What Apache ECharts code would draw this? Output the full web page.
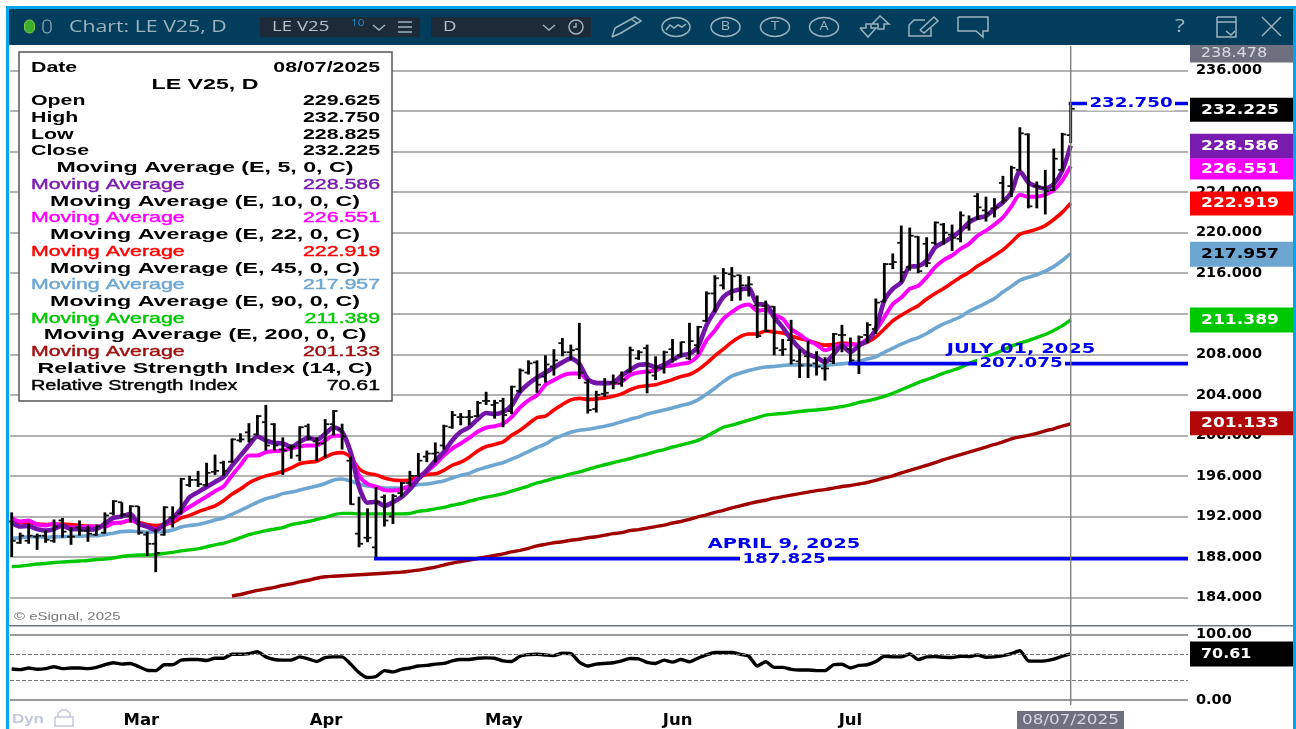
<!DOCTYPE html>
<html>
<head>
<meta charset="utf-8">
<title>LE V25, D</title>
<script src="https://cdn.jsdelivr.net/npm/echarts@6/dist/echarts.min.js"></script>
<style>
html, body { margin: 0; padding: 0; background: #fff; }
#container { width: 1296px; height: 729px; }
</style>
</head>
<body>
<div id="container"></div>
<script>
var lastDate = '08/07/2025';

// open, high, low, close per trading day
var ohlc = [
  [191.5,192.4,188,189.6],[189.4,190.4,189.3,190.1],[189.6,191.3,189.3,190.1],[190,190.3,188.7,190.1],[190.1,190.6,189.4,189.7],
  [189.6,191.7,189.4,191],[191.6,191.85,189.9,190.5],[190,190.9,189.2,190],[190.9,191.6,190.1,190.6],[190.6,191.1,189.5,190.3],
  [190.2,191.2,190.1,191],[190.4,192.4,190.3,192.1],[192.3,193.6,192.1,193.5],[193.4,193.4,191.9,192.2],[192,193.1,191.4,193],
  [193,193,190.2,190.4],[190.2,190.5,188.1,189.3],[189.3,190.75,186.5,188.4],[190.2,193,190.1,192.9],[191.9,193,190.9,192],
  [192.3,195.8,192.2,195.7],[195.1,196,194.9,195.6],[195.6,196.5,194.9,195.2],[195.1,197.3,194.95,196.3],[196.4,198.1,196.1,196.5],
  [197.3,197.5,196,196.5],[197.4,199.7,197.3,199.6],[199.5,200.2,199.3,199.6],[200.3,201.2,199.3,199.6],[200.1,202,200,201.9],
  [201.3,203,198.5,199],[201.1,201.2,198.5,199],[198.6,199.8,196.1,198.5],[198.8,199.1,197.7,198.9],[198,200.9,197.45,200.8],
  [200.9,201.15,199.5,199.7],[199.4,199.8,197.45,199.2],[199.2,201.6,197.8,201.1],[201.1,202.5,200,202.4],[200.6,201.15,198.6,199.9],
  [197.5,197.9,193.15,193.2],[190.3,193.95,188.95,189.3],[189.9,192.8,189.45,189.9],[188.95,194.9,187.825,193.4],[193.9,194.15,191,191.6],
  [192,194.2,191.25,194],[194.3,195.4,193.9,195.3],[195.3,196.5,194.95,196],[196,198.25,195.9,197.5],[197.9,198.5,197.35,198.2],
  [198.2,199.3,197.35,198.3],[199,201.05,198.6,200.9],[200.8,202.4,200.65,202],[201.8,202.2,201,201.8],[201.8,202.5,201,201.8],
  [201.9,203.4,201.8,203.2],[203.4,204.3,203,203.4],[203,203.5,201.65,203.2],[203.4,203.7,200.8,202],[202.4,204.9,202.1,204.8],
  [204.4,206.6,204.2,206.4],[206.2,207.4,206,207.1],[207.2,207.4,204.2,205],[205.8,207.9,205.2,207],[206.8,208.5,205.9,207.4],
  [209.1,209.6,207.8,208.2],[208.2,208.95,207.45,208.4],[208.5,211.1,205.55,206.2],[205.2,205.55,202.15,202.5],[202.6,204.4,202.25,204],
  [204.1,205.65,203.8,204.2],[205.2,206,204.55,205.2],[205.1,206.3,204.8,205.5],[206.3,208.75,206.2,208.4],[207.6,208.4,207.45,208.2],
  [208.6,208.95,204.15,206.2],[205.9,207.8,205.45,206.7],[206.6,208.35,206.1,208.2],[208.5,209.5,207.2,207.5],[207.9,209.25,207.7,209.2],
  [207.6,211.1,207.45,209.3],[208.9,210.8,208,210.7],[211.3,214.2,211.2,214],[214,215.8,212.15,215.5],[214.8,216.5,214.4,216],
  [215.9,216.6,213.25,215.7],[215.8,215.85,213.3,214.8],[214.8,215.7,213.7,214.9],[212.8,213.8,209.6,209.8],[212.8,213.3,210.2,210.3],
  [212.7,212.75,207.9,208.6],[208.4,209.5,207.85,208.5],[209.4,211.4,207,207.4],[207.3,208.5,205.65,206.9],[207.8,209.35,205.65,206.9],
  [207.1,208.3,205.9,206.8],[206.6,207.7,205.4,206.6],[207.3,210.1,207.05,210],[209.9,210.9,208.2,209.9],[208.5,209.65,207,207.4],
  [207,209.85,206.05,209.7],[209.9,211.15,209.1,210.9],[210.5,213.5,210,213.1],[213.2,217,213.1,216.9],[216.9,217.95,216.4,217.1],
  [219,220.7,215.1,216.1],[216.6,220.5,216.25,219.7],[219.6,219.65,216,216.2],[218.9,219.55,216.6,217],[219,221.1,218.8,221],
  [220.8,220.95,218.8,220],[219.8,220.8,218.2,219.5],[219.4,222.1,219.05,221.7],[220.5,221.7,220.2,221.3],[223.6,223.9,221.25,222.5],
  [222.2,223.55,221.1,221.9],[222.4,223.4,221.5,222.5],[224.9,225.6,222.9,223.2],[224.6,226.6,223.5,226.4],[226.2,230.4,226.1,229.8],
  [229.7,229.8,222.4,222.6],[224.6,225.05,222.4,224.5],[224.4,226.2,221.8,224.1],[224.2,228.3,224.1,227.3],[226.2,229.85,226.05,229.7],
  [229.625,232.75,228.825,232.225]
];

var ma5 = [
  191.4,191,191.05,190.75,190.6,190.75,191.1,190.75,190.75,190.7,
  190.75,191.3,191.85,192,192.25,191.25,191,190.65,191.25,191.85,
  192.75,193.9,194.4,194.9,195.4,195.9,197,198,199,199.9,
  199.5,199.25,199.2,198.85,199.35,199.75,199.55,200.15,200.8,200.35,
  198.35,194.9,193.35,193.45,193.05,193.4,193.9,194.7,195.7,196.55,
  197.5,198.35,199.5,200.35,200.8,201.6,202.2,202.1,202.3,202.95,
  204.3,205.1,205.7,206.2,206.7,207.2,207.6,207.05,205.55,205.15,
  205.15,205.2,205.9,206.45,206.95,207,206.7,206.95,207.45,207.9,
  208.05,208.75,210.85,212.3,213.65,214.2,214.4,214.5,212.95,212.9,
  211.65,210.65,209.5,208.6,208,207.7,207.2,208,208.85,208.2,
  208.85,209.35,210.5,213.3,214.45,215.1,216.65,216.7,217.25,218.55,
  219.05,219.55,220.2,221,221.45,221.65,222.35,223,224,226.05,
  224.95,224.55,224.35,224.8,226.1,228.586
];
var ma10 = [
  191.85,191.5,191.6,191.2,191.1,191.3,191,190.9,190.9,191,
  191,191,191.35,191.4,191.65,191.3,191,190.75,191.1,191.65,
  192.4,192.95,193.45,193.95,194.5,194.95,196.05,197.05,198,198,
  198.35,198.45,198.5,198.7,198.9,199,199,199.5,199.95,199.95,
  198.35,196.05,195.2,194.95,194.6,194.55,194.7,195.05,195.9,196.45,
  197.15,198,198.7,199.2,199.75,200.35,200.75,200.9,201.15,201.8,
  202.75,203.45,203.95,205,205.45,205.9,206.1,206.1,205.45,205.2,
  205.15,205.15,205.3,205.95,206.2,206.3,206.4,206.8,206.9,207.05,
  207.2,207.85,209.35,210.35,211.5,212.15,212.7,212.9,212.3,212.4,
  211.9,211.5,210.5,209.95,209.35,208.95,208.4,208.7,208.95,208.95,
  209,209.5,210.35,211.65,212.95,213.6,214.45,214.75,215.6,216.6,
  217.3,217.75,218.4,218.9,219.7,220.2,220.8,221.5,222.6,223.75,
  223.55,223.55,223.75,224.2,225.15,226.551
];
var ma22 = [
  191.75,191.4,191.4,191.25,191.2,191.2,191.25,191.2,191.1,191.05,
  191,191.15,191.35,191.4,191.6,191.4,191.2,191.1,191.2,191.4,
  191.85,192.1,192.45,192.75,193.05,193.55,194.2,194.7,195.3,195.7,
  196,196.2,196.45,196.8,197.2,197.35,197.45,197.85,198.2,198.3,
  197.85,196.7,196.25,196.1,195.8,195.6,195.55,195.6,195.9,196.15,
  196.2,196.55,197.05,197.35,197.85,198.45,198.9,199.1,199.35,200,
  200.5,201.15,201.75,201.9,202.5,203.05,203.5,203.65,203.55,203.6,
  203.7,203.85,204.1,204.5,204.8,204.9,205,205.25,205.5,205.8,
  206,206.45,207.1,207.85,208.5,209.2,209.75,210,210,210.3,
  210.2,210.1,209.8,209.55,209.35,209.1,208.9,208.95,209.1,209.05,
  208.95,209.2,209.7,210.5,211.3,211.85,212.35,212.8,213.45,214,
  214.5,215.05,215.6,216.1,216.7,217.2,217.75,218.3,219.05,219.85,
  220.1,220.35,220.7,221.3,222,222.919
];
var ma45 = [
  189.85,189.9,190,190,189.95,190,190,190.05,190.05,190.1,
  190.1,190.2,190.35,190.5,190.55,190.5,190.45,190.5,190.5,190.65,
  190.95,191.1,191.2,191.4,191.65,191.85,192.2,192.6,193,193.4,
  193.75,193.95,194.25,194.4,194.6,194.8,195,195.25,195.6,195.7,
  195.5,195.2,195,194.9,194.8,194.8,194.8,194.95,195.15,195.2,
  195.35,195.5,195.8,196.05,196.25,196.6,196.85,197.1,197.3,197.65,
  198,198.4,198.8,199.15,199.65,200,200.3,200.5,200.6,200.75,
  200.9,201.1,201.35,201.6,201.8,202.1,202.3,202.5,202.7,202.95,
  203.15,203.5,204.05,204.65,205.3,205.85,206.15,206.4,206.6,206.75,
  206.8,206.9,206.95,206.95,206.95,206.85,206.9,207,207.05,207.15,
  207.3,207.55,207.75,208.2,208.6,209,209.35,209.65,210.05,210.55,
  211,211.35,211.7,212.25,212.65,213.05,213.5,214.15,214.7,215.3,
  215.6,215.85,216.2,216.65,217.25,217.957
];
var ma90 = [
  187.05,187.1,187.2,187.3,187.35,187.45,187.5,187.55,187.6,187.65,
  187.75,187.8,187.9,188.05,188.15,188.2,188.2,188.25,188.35,188.45,
  188.6,188.7,188.8,189,189.2,189.35,189.6,189.9,190.2,190.4,
  190.6,190.75,190.9,191.2,191.35,191.5,191.7,191.9,192.15,192.3,
  192.3,192.25,192.25,192.25,192.25,192.25,192.25,192.3,192.5,192.6,
  192.75,192.9,193.1,193.25,193.5,193.7,193.9,194.05,194.25,194.5,
  194.75,195,195.3,195.5,195.75,195.95,196.2,196.4,196.65,196.9,
  197.1,197.3,197.5,197.7,197.95,198.15,198.4,198.6,198.85,199.05,
  199.25,199.5,199.9,200.35,200.8,201,201.25,201.5,201.75,202,
  202.1,202.15,202.25,202.35,202.45,202.5,202.6,202.7,202.85,203,
  203.25,203.4,203.6,203.85,204.15,204.5,204.85,205.2,205.5,205.8,
  206.15,206.4,206.7,207.1,207.4,207.75,208.05,208.4,208.8,209.1,
  209.35,209.65,209.95,210.35,210.8,211.389
];
// the 200 day average only starts at bar 26
var ma200Start = 26;
var ma200 = [
  184.15,184.3,184.5,184.7,184.85,185,185.2,185.35,185.55,185.7,
  185.9,186.05,186.1,186.15,186.2,186.25,186.3,186.35,186.4,186.45,
  186.5,186.6,186.7,186.85,187,187.2,187.4,187.55,187.7,187.85,
  188,188.15,188.3,188.5,188.65,188.85,189.1,189.25,189.4,189.5,
  189.65,189.75,189.9,190,190.15,190.3,190.4,190.6,190.7,190.85,
  191,191.15,191.35,191.5,191.7,191.95,192.15,192.4,192.6,192.85,
  193.05,193.25,193.45,193.6,193.8,193.95,194.1,194.25,194.4,194.55,
  194.65,194.8,194.95,195.05,195.2,195.35,195.55,195.8,196,196.3,
  196.55,196.8,197.05,197.3,197.6,197.85,198.1,198.35,198.6,198.85,
  199.1,199.35,199.65,199.85,200,200.2,200.45,200.65,200.9,201.133
];
var rsi = [
  47.5,46.5,49,47,48,51,48,49,49,48,
  50,54,57,55,56,51,45.5,45,54,54,
  61,62,62,60.5,64,64,70,70,71,74,
  66,62,61,61,66,63,59,65,66,66,
  55,42,34.5,36,45,43,47,49,52,53,
  55,56,60,62,62,64,64.5,64,60,59,
  67,69.5,70,69,68,71.5,71,58,52,55,
  56,57,60,63.5,63,57.5,56,61,58,62,
  58.5,64,69,72.7,72.7,72.7,70,67,52,58.5,
  50,50,47,46,46,45,45,54,54.8,49,
  53,54,58.8,67,66,66,70.5,62,66,66.5,
  65.5,65,67,66.5,69,65.5,66,68,71,75.5,
  60,59.5,60,62.5,67,70.61
];

var priceTicks = [184,188,192,196,200,204,208,212,216,220,224,228,232,236];
var rsiTicks = [0,100];
var rsiBands = [70,30];
var monthTicks = [15.3,37.1,58.1,78.6,99];
var monthNames = ['Mar','Apr','May','Jun','Jul'];

// horizontal level lines: first bar, level, heading, value text
var levels = [
  [99,207.075,'JULY 01, 2025','207.075'],
  [43,187.825,'APRIL 9, 2025','187.825'],
  [125,232.75,'','232.750']
];

var tagValues = [238.478,232.225,228.586,226.551,222.919,217.957,211.389,201.133];
var rsiTag = [70.61];
var legendRows = [
  ['Date','08/07/2025','#000',1],
  ['','LE V25, D','#000',2],
  ['Open','229.625','#000',1],
  ['High','232.750','#000',1],
  ['Low','228.825','#000',1],
  ['Close','232.225','#000',1],
  ['','Moving Average (E, 5, 0, C)','#000',2],
  ['Moving Average','228.586','#7a1bb0',0],
  ['','Moving Average (E, 10, 0, C)','#000',2],
  ['Moving Average','226.551','#ff00ff',0],
  ['','Moving Average (E, 22, 0, C)','#000',2],
  ['Moving Average','222.919','#ff0000',0],
  ['','Moving Average (E, 45, 0, C)','#000',2],
  ['Moving Average','217.957','#6ea6d2',0],
  ['','Moving Average (E, 90, 0, C)','#000',2],
  ['Moving Average','211.389','#00c800',0],
  ['','Moving Average (E, 200, 0, C)','#000',2],
  ['Moving Average','201.133','#a01010',0],
  ['','Relative Strength Index (14, C)','#000',2],
  ['Relative Strength Index','70.61','#000',0]
];

var dom = document.getElementById('container');
var myChart = echarts.init(dom);

var GRID_LEFT = 10, GRID_RIGHT = 1188;
var BAR0 = 11.7, BAR_STEP = 8.472;
var xMin = (GRID_LEFT - BAR0) / BAR_STEP;
var xMax = (GRID_RIGHT - BAR0) / BAR_STEP;
var ICON = '#9db3c0';

function pts(vals, start) {
  return vals.map(function (v, i) { return [i + (start || 0), v]; });
}

function maSeries(name, vals, color, width, start) {
  return {
    name: name, type: 'line', xAxisIndex: 0, yAxisIndex: 0,
    data: pts(vals, start), symbol: 'none', silent: true, z: 3, smooth: 0.25,
    lineStyle: {color: color, width: width}
  };
}

function renderBar(params, api) {
  var x = api.coord([api.value(0), 200])[0];
  var y = function (d) { return api.coord([0, api.value(d)])[1]; };
  var s = {stroke: '#000', lineWidth: 2.8};
  var t = {stroke: '#111', lineWidth: 1.8};
  return {
    type: 'group',
    children: [
      {type: 'line', shape: {x1: x, y1: y(2), x2: x, y2: y(3)}, style: s},
      {type: 'line', shape: {x1: x - 4, y1: y(1), x2: x, y2: y(1)}, style: t},
      {type: 'line', shape: {x1: x, y1: y(4), x2: x + 4, y2: y(4)}, style: t}
    ]
  };
}

function renderLevel(params, api) {
  var lv = levels[params.dataIndex];
  var p = api.coord([lv[0], lv[1]]);
  var endX = GRID_RIGHT;
  var cx = (lv[2] === '') ? 1131 : (lv[1] > 200 ? 1021 : 784);
  var kids = [
    {type: 'line', shape: {x1: p[0] - 2, y1: p[1], x2: endX, y2: p[1]}, style: {stroke: '#0000ee', lineWidth: 3.6}},
    {type: 'rect', shape: {x: cx - 44, y: p[1] - 7, width: 88, height: 14}, style: {fill: '#fff'}},
    {type: 'text', x: cx, y: p[1], scaleX: 1.26, style: {text: lv[3], fill: '#0000ee', font: 'bold 14.5px "DejaVu Sans"', align: 'center', verticalAlign: 'middle'}}
  ];
  if (lv[2] !== '') {
    kids.push({type: 'text', x: cx, y: p[1] - 14.5, scaleX: 1.34, style: {text: lv[2], fill: '#0000ee', font: 'bold 14.5px "DejaVu Sans"', align: 'center', verticalAlign: 'middle'}});
  }
  return {type: 'group', children: kids};
}

var tagStyles = [
  {bg: '#6e7080', fg: '#d8dce2', h: 18, dy: 8, font: '14px "DejaVu Sans"', sx: 1.15, cx: 1234},
  {bg: '#000', fg: '#fff', h: 24, dy: 1},
  {bg: '#7a1bb0', fg: '#fff', h: 25, dy: 0.5},
  {bg: '#ff00ff', fg: '#fff', h: 21, dy: 2.8},
  {bg: '#ff0000', fg: '#fff', h: 24, dy: 0.5},
  {bg: '#6ea6d2', fg: '#000', h: 25, dy: 0.8},
  {bg: '#00c800', fg: '#fff', h: 25, dy: 0},
  {bg: '#b00808', fg: '#fff', h: 24, dy: -0.5}
];

function renderTag(params, api) {
  var st = tagStyles[params.dataIndex];
  var v = api.value(1);
  var y = api.coord([0, v])[1] + st.dy;
  return {
    type: 'group',
    children: [
      {type: 'rect', shape: {x: 1190, y: y - st.h / 2, width: 104, height: st.h}, style: {fill: st.bg}},
      {type: 'text', x: st.cx || 1240, y: y, scaleX: st.sx || 1.18, style: {text: v.toFixed(3), fill: st.fg, font: st.font || 'bold 14.5px "DejaVu Sans"', align: 'center', verticalAlign: 'middle'}}
    ]
  };
}

function renderRsiTag(params, api) {
  var v = api.value(1);
  var y = api.coord([0, v])[1];
  return {
    type: 'group',
    children: [
      {type: 'rect', shape: {x: 1190, y: y - 12.5, width: 104, height: 25}, style: {fill: '#000'}},
      {type: 'text', x: 1201, y: y, scaleX: 1.1, style: {text: v.toFixed(2), fill: '#fff', font: 'bold 14.5px "DejaVu Sans"', align: 'left', verticalAlign: 'middle'}}
    ]
  };
}

// vertical cursor over both panes, sits on the last bar
function renderCursor(params, api) {
  var x = api.coord([api.value(0), 200])[0];
  return {type: 'line', shape: {x1: x, y1: 46, x2: x, y2: 705}, style: {stroke: '#808080', lineWidth: 1.4}};
}

var gfx = [];
function rect(x, y, w, h, fill, stroke) {
  gfx.push({type: 'rect', z: 50, shape: {x: x, y: y, width: w, height: h}, style: {fill: fill, stroke: stroke || null, lineWidth: stroke ? 1.5 : 0}});
}
function label(x, y, text, o) {
  o = o || {};
  gfx.push({type: 'text', z: 51, x: x, y: y, scaleX: o.sx || 1, style: {
    text: text, fill: o.fill || ICON, font: o.font || '16px "Open Sans"', align: o.align || 'left', verticalAlign: 'middle',
    stroke: o.heavy ? o.fill : null, lineWidth: o.heavy ? 0.4 : 0
  }});
}
function icon(points, color) {
  gfx.push({type: 'polyline', z: 51, shape: {points: points}, style: {fill: null, stroke: color || ICON, lineWidth: 1.5}});
}
function oval(cx, cy, rx, ry, color) {
  gfx.push({type: 'ellipse', z: 51, shape: {cx: cx, cy: cy, rx: rx, ry: ry}, style: {fill: null, stroke: color || ICON, lineWidth: 1.5}});
}

// window frame and toolbar
rect(6, 6, 1290, 3, '#00a5ee');
rect(6, 6, 3, 723, '#00a5ee');
rect(1293, 6, 3, 723, '#00a5ee');
rect(9, 9, 1284, 36, '#023e5b');
gfx.push({type: 'rect', z: 51, shape: {x: 24.5, y: 20, width: 10, height: 13, r: 5}, style: {fill: '#3fae2a', stroke: '#7fd050', lineWidth: 1}});
gfx.push({type: 'rect', z: 51, shape: {x: 43, y: 20, width: 8, height: 13, r: 4}, style: {fill: null, stroke: ICON, lineWidth: 1.2}});
label(69, 27, 'Chart: LE V25, D', {sx: 1.33});
rect(260, 17, 160, 20, '#1d2a38');
rect(431, 17, 160, 20, '#1d2a38');
label(272, 27, 'LE V25', {font: '14px "Open Sans"', fill: '#b4c2cc', sx: 1.33});
label(351, 23, '10', {font: '9px "Open Sans"', fill: '#1f8fd0', sx: 1.3});
icon([[373, 25], [379, 30], [385, 25]]);
icon([[398, 22], [412, 22]]);
icon([[398, 27], [412, 27]]);
icon([[398, 32], [412, 32]]);
label(443, 27, 'D', {font: '14px "Open Sans"', fill: '#b4c2cc', sx: 1.33});
icon([[543, 25], [549, 30], [555, 25]]);
oval(576, 27, 7, 7);
icon([[576, 23], [576, 27], [573, 27]]);
// pencil
icon([[612, 37], [615, 28], [635, 17], [641, 21], [621, 33], [612, 37]]);
icon([[631, 19], [637, 23]]);
// study wave
oval(676, 27, 14, 9.5);
icon([[666, 30], [670, 25], [674, 28], [678, 25], [682, 27], [686, 24]]);
oval(725.5, 27, 14.5, 9.5);
label(725.5, 27, 'B', {font: '12px "Open Sans"', align: 'center', sx: 1.2});
oval(775, 27, 14.5, 9.5);
label(775, 27, 'T', {font: '12px "Open Sans"', align: 'center', sx: 1.2});
oval(824, 27, 14.5, 9.5);
label(824, 27, 'A', {font: '12px "Open Sans"', align: 'center', sx: 1.2});
// up and down arrows
icon([[860, 28], [866, 28], [866, 24], [871, 24], [871, 28], [876, 28], [868, 37], [860, 28]]);
icon([[872, 24], [880, 16], [889, 24], [884, 24], [884, 29], [878, 29], [878, 24], [872, 24]]);
// note
icon([[925, 20], [914, 20], [909, 25], [909, 36], [931, 36], [931, 28]]);
icon([[920, 30], [934, 17], [938, 21], [924, 33], [920, 30]]);
// chat bubble
icon([[958, 17], [988, 17], [988, 31], [983, 31], [983, 37], [976, 31], [958, 31], [958, 17]]);
label(1180, 27, '?', {font: '19px "Open Sans"', align: 'center', sx: 1.2});
icon([[1217, 17], [1236, 17], [1236, 37], [1217, 37], [1217, 17]]);
icon([[1217, 22], [1236, 22]]);
icon([[1226, 31], [1231, 35], [1235, 31]]);
icon([[1262, 17], [1281, 36]]);
icon([[1281, 17], [1262, 36]]);

// data window box
rect(19, 52, 373, 349, '#fff', '#555');
legendRows.forEach(function (row, k) {
  var y = 67.8 + 16.73 * k;
  if (row[3] === 2) {
    label(205, y, row[1], {font: 'bold 14.5px "Liberation Sans"', fill: row[2], align: 'center', sx: 1.6});
    return;
  }
  var font = (row[3] === 1 ? 'bold ' : '') + '14.5px "Liberation Sans"';
  label(31, y, row[0], {font: font, fill: row[2], sx: row[0].length > 14 ? 1.37 : 1.47, heavy: row[3] === 0});
  label(380, y, row[1], {font: font, fill: row[2], align: 'right', sx: 1.47, heavy: row[3] === 0});
});

// bottom strip
rect(9, 625, 1284, 1.5, '#6f7888');
label(14, 617, '\u00a9 eSignal, 2025', {font: '11.5px "Liberation Sans"', fill: '#777', sx: 1.3});
label(12, 719, 'Dyn', {font: 'bold 13px "Liberation Sans"', fill: '#c2c6de', sx: 1.3});
icon([[55, 717], [73, 717], [73, 726], [55, 726], [55, 717]], '#c2c6de');
icon([[58, 717], [58, 713], [62, 710], [66, 710], [70, 713], [70, 717]], '#c2c6de');
rect(1017, 711, 107, 18, '#6e7080');
label(1070.5, 720, lastDate, {font: '14px "DejaVu Sans"', fill: '#d4d8e0', align: 'center', sx: 1.2});

var option = {
  animation: false,
  backgroundColor: '#fff',
  grid: [
    {left: GRID_LEFT, width: GRID_RIGHT - GRID_LEFT, top: 45.4, height: 580.3},
    {left: GRID_LEFT, width: GRID_RIGHT - GRID_LEFT, top: 634.7, height: 67}
  ],
  xAxis: [
    {
      type: 'value', gridIndex: 0, min: xMin, max: xMax,
      axisLine: {show: false}, axisTick: {show: false}, axisLabel: {show: false}, splitLine: {show: false}
    },
    {
      type: 'value', gridIndex: 1, min: xMin, max: xMax,
      axisLine: {show: false}, axisTick: {show: false}, splitLine: {show: false},
      axisLabel: {
        customValues: monthTicks, margin: 12,
        fontFamily: 'DejaVu Sans', fontWeight: 'bold', fontSize: 16.5, color: '#000',
        formatter: function (v) { return monthNames[monthTicks.indexOf(v)]; }
      }
    }
  ],
  yAxis: [
    {
      type: 'value', gridIndex: 0, position: 'right', min: 181.218, max: 238.478,
      axisLine: {show: false},
      axisTick: {show: false, customValues: priceTicks},
      splitLine: {show: true, lineStyle: {color: '#999', width: 1.5}},
      axisLabel: {
        customValues: priceTicks, margin: 8, padding: [3, 0, 0, 0],
        fontFamily: 'DejaVu Sans', fontWeight: 'bold', fontSize: 14.5, color: '#000',
        formatter: function (v) { return v.toFixed(3); }
      }
    },
    {
      type: 'value', gridIndex: 1, position: 'right', min: 0, max: 100,
      axisLine: {show: false},
      axisTick: {show: false, customValues: rsiTicks},
      splitLine: {show: true, lineStyle: {color: '#777', width: 1.5}},
      axisLabel: {
        customValues: rsiTicks, margin: 8, padding: [3, 0, 0, 0],
        fontFamily: 'DejaVu Sans', fontWeight: 'bold', fontSize: 14.5, color: '#000',
        formatter: function (v) { return v.toFixed(2); }
      }
    }
  ],
  series: [
    maSeries('MA 200', ma200, '#a00000', 3.4, ma200Start),
    maSeries('MA 90', ma90, '#00c800', 3.4),
    maSeries('MA 45', ma45, '#6ea6d2', 3.6),
    maSeries('MA 22', ma22, '#ff0000', 3.6),
    maSeries('MA 10', ma10, '#ff00ff', 4),
    maSeries('MA 5', ma5, '#7314a8', 4.6),
    {
      name: 'LE V25', type: 'custom', xAxisIndex: 0, yAxisIndex: 0, z: 4, silent: true,
      data: ohlc.map(function (b, i) { return [i, b[0], b[1], b[2], b[3]]; }),
      encode: {x: 0, y: [1, 2, 3, 4]},
      renderItem: renderBar
    },
    {
      name: 'levels', type: 'custom', xAxisIndex: 0, yAxisIndex: 0, z: 5, silent: true,
      data: levels.map(function (l) { return [l[0], l[1]]; }),
      encode: {x: 0, y: 1},
      renderItem: renderLevel
    },
    {
      name: 'cursor', type: 'custom', xAxisIndex: 0, yAxisIndex: 0, z: 6, silent: true,
      data: [[ohlc.length - 1, 200]],
      encode: {x: 0, y: 1},
      renderItem: renderCursor
    },
    {
      name: 'tags', type: 'custom', xAxisIndex: 0, yAxisIndex: 0, z: 7, silent: true,
      data: tagValues.map(function (v) { return [0, v]; }),
      encode: {x: 0, y: 1},
      renderItem: renderTag
    },
    {
      name: 'RSI', type: 'line', xAxisIndex: 1, yAxisIndex: 1, z: 3, silent: true,
      data: pts(rsi), symbol: 'none', smooth: 0.2,
      lineStyle: {color: '#000', width: 3.4},
      markLine: {
        silent: true, symbol: 'none', label: {show: false},
        lineStyle: {color: '#777', type: 'dashed', width: 1},
        data: rsiBands.map(function (v) { return {yAxis: v}; })
      }
    },
    {
      name: 'rsi tag', type: 'custom', xAxisIndex: 1, yAxisIndex: 1, z: 7, silent: true,
      data: rsiTag.map(function (v) { return [0, v]; }),
      encode: {x: 0, y: 1},
      renderItem: renderRsiTag
    }
  ],
  graphic: {elements: gfx}
};

if (option && typeof option === 'object') {
  myChart.setOption(option, true);
}
</script>
</body>
</html>
